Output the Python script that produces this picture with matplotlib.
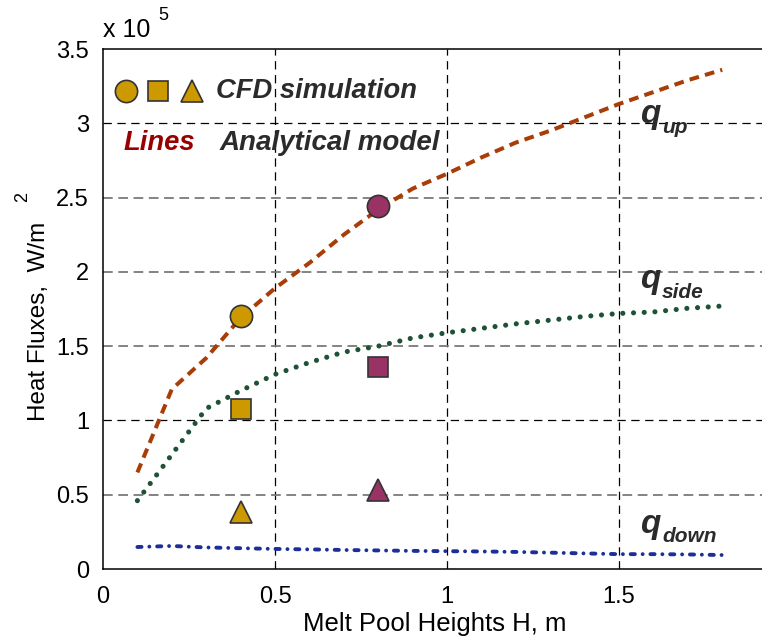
import matplotlib
matplotlib.use("Agg")
import matplotlib.pyplot as plt

plt.rcParams['font.family'] = ['Liberation Sans', 'DejaVu Sans']
plt.rcParams['lines.scale_dashes'] = False

# ---- data ----
H_line = [0.1, 0.2, 0.3, 0.4, 0.5, 0.6, 0.7, 0.8, 0.9, 1.0, 1.1, 1.2, 1.3, 1.4, 1.5, 1.6, 1.7, 1.8]
q_up_line = [0.65, 1.21, 1.42, 1.69, 1.89, 2.06, 2.25, 2.42, 2.56, 2.66, 2.77, 2.87, 2.95, 3.04, 3.13, 3.21, 3.29, 3.36]
q_side_line = [0.46, 0.77, 1.08, 1.20, 1.31, 1.39, 1.46, 1.50, 1.555, 1.59, 1.62, 1.65, 1.675, 1.70, 1.72, 1.73, 1.755, 1.77]
q_down_line = [0.148, 0.155, 0.145, 0.140, 0.135, 0.132, 0.128, 0.125, 0.122, 0.120, 0.118, 0.115, 0.110, 0.105, 0.100, 0.100, 0.098, 0.094]

H_cfd = [0.4, 0.8]
q_up_cfd = [1.70, 2.44]
q_side_cfd = [1.08, 1.36]
q_down_cfd = [0.387, 0.535]
cfd_colors = ['#CC9900', '#993366']

x_ticks = [0, 0.5, 1, 1.5]
y_ticks = [0, 0.5, 1, 1.5, 2, 2.5, 3, 3.5]
y_grid_gray = [0.5, 1.5, 2, 2.5]
y_grid_black = [1, 3]

W, Hpx = 762, 640
fig = plt.figure(figsize=(W / 100, Hpx / 100), dpi=100)

def fx(px):
    return px / W

def fy(py):
    return 1 - py / Hpx

left, top, bottom = 103, 49, 569
xmax = 2.0
px_per_x = 344
ax = fig.add_axes([fx(left), fy(bottom), (xmax * px_per_x) / W, (bottom - top) / Hpx])
ax.set_xlim(0, xmax)
ax.set_ylim(0, 3.5)

# grid
for xv in [0.5, 1, 1.5]:
    ax.axvline(xv, color='black', lw=0.9, dashes=(6, 4), zorder=1)
for yv in y_grid_black:
    ax.axhline(yv, color='black', lw=0.9, dashes=(6, 4), zorder=1)
for yv in y_grid_gray:
    ax.axhline(yv, color='#7a7a7a', lw=1.3, dashes=(7, 4), zorder=1)

# analytical lines
ax.plot(H_line, q_up_line, color='#A93D08', lw=2.9, dashes=(7, 4.5), zorder=3)
ax.plot(H_line, q_side_line, color='#1E5236', lw=3.7, dashes=(0.01, 7.7),
        dash_capstyle='round', zorder=3)
ax.plot(H_line, q_down_line, color='#1C2F99', lw=2.8, dashes=(3, 5.6, 0.01, 5.6),
        dash_capstyle='round', zorder=3)

# CFD markers
for i in range(len(H_cfd)):
    c = cfd_colors[i]
    ax.plot(H_cfd[i], q_up_cfd[i], 'o', ms=16, mfc=c, mec='#333333', mew=1.2, zorder=4)
    ax.plot(H_cfd[i], q_side_cfd[i], 's', ms=14, mfc=c, mec='#333333', mew=1.2, zorder=4)
    ax.plot(H_cfd[i], q_down_cfd[i], '^', ms=16, mfc=c, mec='#333333', mew=1.2, zorder=4)

# spines / ticks
ax.spines['right'].set_visible(False)
for s in ['left', 'top', 'bottom']:
    ax.spines[s].set_linewidth(1.1)
ax.set_xticks(x_ticks)
ax.set_xticklabels(['%g' % v for v in x_ticks])
ax.set_yticks(y_ticks)
ax.set_yticklabels(['%g' % v for v in y_ticks])
ax.tick_params(length=0, labelsize=17, pad=10)
ax.tick_params(axis='x', pad=12)

# legend-like annotation
def axpos(px, py):
    return ((px - left) / (xmax * px_per_x), (bottom - py) / (bottom - top))

lc = cfd_colors[0]
ax.plot(*axpos(126, 91), 'o', ms=16, mfc=lc, mec='#333333', mew=1.2, transform=ax.transAxes, zorder=4, clip_on=False)
ax.plot(*axpos(158, 91), 's', ms=14, mfc=lc, mec='#333333', mew=1.2, transform=ax.transAxes, zorder=4, clip_on=False)
ax.plot(*axpos(192, 91), '^', ms=16, mfc=lc, mec='#333333', mew=1.2, transform=ax.transAxes, zorder=4, clip_on=False)

txtc = '#2b2b2b'
fig.text(fx(216), fy(91), 'CFD simulation', fontsize=19.7, fontweight='bold', fontstyle='italic',
         color=txtc, ha='left', va='center')
fig.text(fx(124), fy(143), 'Lines', fontsize=19.7, fontweight='bold', fontstyle='italic',
         color='#990000', ha='left', va='center')
fig.text(fx(220), fy(143), 'Analytical model', fontsize=20, fontweight='bold', fontstyle='italic',
         color=txtc, ha='left', va='center')

# q labels
for base_y, sub, sub_y in [(123, 'up', 133), (288, 'side', 298), (533, 'down', 542)]:
    fig.text(fx(640), fy(base_y), 'q', fontsize=24, fontweight='bold', fontstyle='italic',
             color=txtc, ha='left', va='baseline')
    fig.text(fx(662), fy(sub_y), sub, fontsize=15, fontweight='bold', fontstyle='italic',
             color=txtc, ha='left', va='baseline')

# axis labels
fig.text(fx(435), fy(631), 'Melt Pool Heights H, m', fontsize=18.5, ha='center', va='baseline')
fig.text(fx(45), fy(321), 'Heat Fluxes,  W/m', fontsize=17.5, rotation=90,
         rotation_mode='anchor', ha='center', va='baseline')
fig.text(fx(27), fy(197), '2', fontsize=13, rotation=90, rotation_mode='anchor',
         ha='center', va='baseline')

# exponent
fig.text(fx(103), fy(37), 'x 10', fontsize=18, ha='left', va='baseline')
fig.text(fx(158), fy(20), '5', fontsize=13, ha='left', va='baseline')

fig.savefig('out.png', dpi=100)
